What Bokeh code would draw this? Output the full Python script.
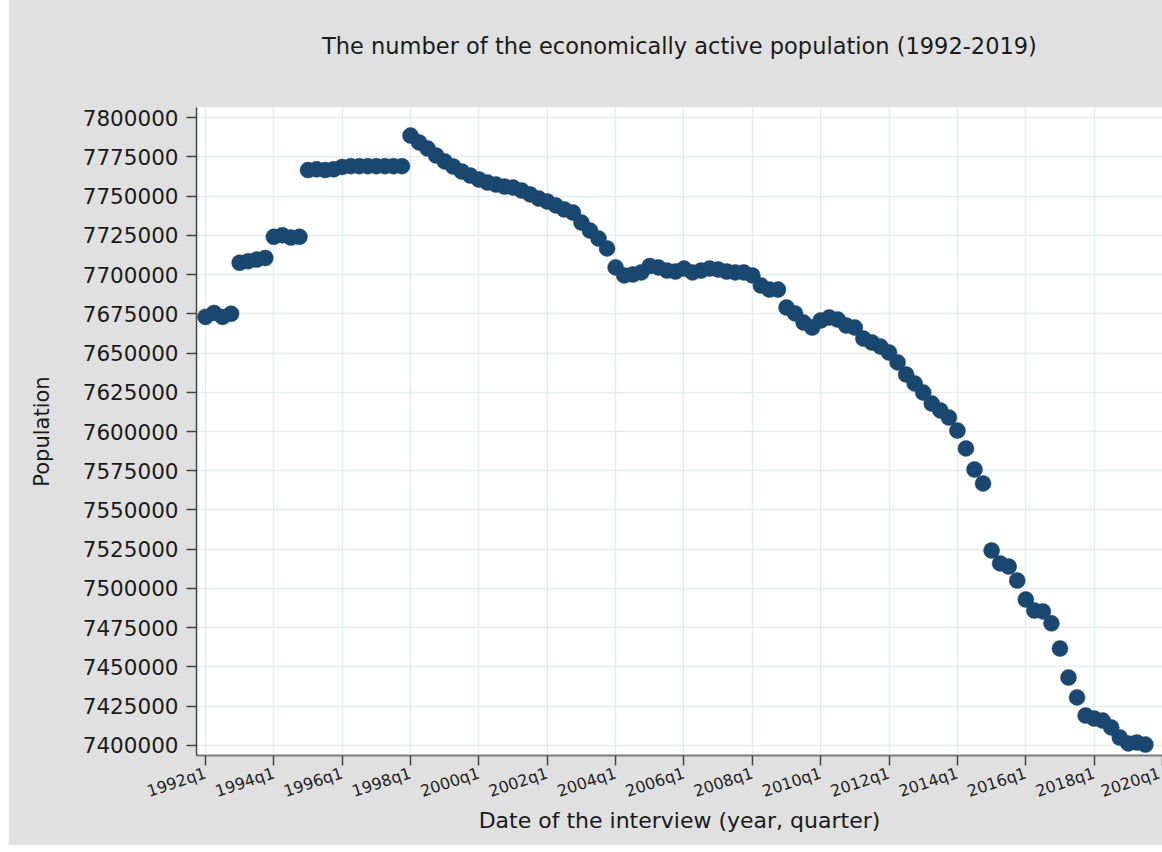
from bokeh.plotting import figure
from bokeh.models import FixedTicker, Range1d, BasicTickFormatter
from bokeh.embed import file_html
from bokeh.resources import INLINE

# Quarterly values, 1992q1 .. 2019q3
population = [
    7673000, 7675500, 7673000, 7675000,   # 1992
    7707500, 7708500, 7709500, 7710500,   # 1993
    7724000, 7725000, 7723500, 7724000,   # 1994
    7766500, 7767000, 7766500, 7767000,   # 1995
    7768500, 7769000, 7769000, 7769000,   # 1996
    7769000, 7769000, 7769000, 7769000,   # 1997
    7788500, 7784100, 7780200, 7775800,   # 1998
    7772000, 7768800, 7765600, 7763000,   # 1999
    7760500, 7758600, 7757300, 7756000,   # 2000
    7755400, 7753500, 7751000, 7748400,   # 2001
    7746500, 7744000, 7741400, 7739500,   # 2002
    7733100, 7728000, 7722900, 7716600,   # 2003
    7704500, 7699400, 7700000, 7701300,   # 2004
    7705400, 7704500, 7702500, 7701900,   # 2005
    7703800, 7701300, 7702500, 7703800,   # 2006
    7703200, 7701900, 7701300, 7701300,   # 2007
    7699400, 7693000, 7690400, 7690400,   # 2008
    7679000, 7675200, 7669400, 7666200,   # 2009
    7670700, 7672600, 7671300, 7667500,   # 2010
    7666200, 7659200, 7656700, 7654100,   # 2011
    7650300, 7644000, 7636300, 7630600,   # 2012
    7624800, 7617800, 7613400, 7608900,   # 2013
    7600600, 7589200, 7575800, 7566900,   # 2014
    7524200, 7516000, 7514000, 7505100,   # 2015
    7493000, 7486000, 7485400, 7477800,   # 2016
    7461800, 7443300, 7430600, 7419100,   # 2017
    7417200, 7415900, 7411500, 7405100,   # 2018
    7401300, 7401900, 7400600,            # 2019
]
quarter_index = list(range(len(population)))  # 0 = 1992q1

tick_labels = ["1992q1", "1994q1", "1996q1", "1998q1", "2000q1", "2002q1", "2004q1",
               "2006q1", "2008q1", "2010q1", "2012q1", "2014q1", "2016q1", "2018q1", "2020q1"]
tick_quarters = [0, 8, 16, 24, 32, 40, 48, 56, 64, 72, 80, 88, 96, 104, 112]
y_ticks = [7400000, 7425000, 7450000, 7475000, 7500000, 7525000, 7550000, 7575000,
           7600000, 7625000, 7650000, 7675000, 7700000, 7725000, 7750000, 7775000, 7800000]
title_text = "The number of the economically active population (1992-2019)"

FONT = "DejaVu Sans"
BG = "#E0E0E0"
NAVY = "#1A476F"

p = figure(width=1154, height=864, output_backend="svg", toolbar_location=None,
           x_range=Range1d(-1.05, 112.0), y_range=Range1d(7393630, 7806370),
           min_border_left=188, min_border_right=0, min_border_top=126, min_border_bottom=90,
           background_fill_color="white", border_fill_color=BG, title=title_text)
p.margin = (-19, 0, 0, 8)

p.outline_line_color = None

p.title.align = "center"
p.title.text_font = FONT
p.title.text_font_size = "22.5px"
p.title.text_font_style = "normal"
p.title.text_color = "#1a1a1a"
p.title.standoff = 98

p.scatter(quarter_index, population, size=16, fill_color=NAVY, line_color=NAVY, line_width=0.5)

# x axis
xa = p.xaxis[0]
xa.ticker = FixedTicker(ticks=tick_quarters)
xa.major_label_overrides = {q: lab for q, lab in zip(tick_quarters, tick_labels)}
xa.major_label_orientation = 0.32
xa.major_label_text_font = FONT
xa.major_label_text_font_size = "16px"
xa.major_label_text_color = "#222222"
xa.major_label_standoff = 7
xa.major_tick_out = 10
xa.major_tick_in = 0
xa.minor_tick_line_color = None
xa.axis_line_color = "#7a7a7a"
xa.axis_line_width = 2
xa.major_tick_line_color = "#444444"
xa.major_tick_line_width = 1.5
xa.axis_label = "Date of the interview (year, quarter)"
xa.axis_label_text_font = FONT
xa.axis_label_text_font_size = "22px"
xa.axis_label_text_font_style = "normal"
xa.axis_label_text_color = "#1a1a1a"
xa.axis_label_standoff = -5

# y axis
ya = p.yaxis[0]
ya.ticker = FixedTicker(ticks=y_ticks)
ya.formatter = BasicTickFormatter(use_scientific=False)
ya.major_label_text_font = FONT
ya.major_label_text_font_size = "21.5px"
ya.major_label_text_color = "#1a1a1a"
ya.major_label_standoff = 8
ya.major_tick_out = 10
ya.major_tick_in = 0
ya.minor_tick_line_color = None
ya.axis_line_color = "#444444"
ya.axis_line_width = 1.5
ya.major_tick_line_color = "#444444"
ya.major_tick_line_width = 1.5
ya.axis_label = "Population"
ya.axis_label_text_font = FONT
ya.axis_label_text_font_size = "21px"
ya.axis_label_text_font_style = "normal"
ya.axis_label_text_color = "#1a1a1a"
ya.axis_label_standoff = 26

for g in (p.xgrid[0], p.ygrid[0]):
    g.grid_line_color = "#E3ECEF"
    g.grid_line_width = 1.5

open("out.html", "w").write(file_html(p, INLINE))
